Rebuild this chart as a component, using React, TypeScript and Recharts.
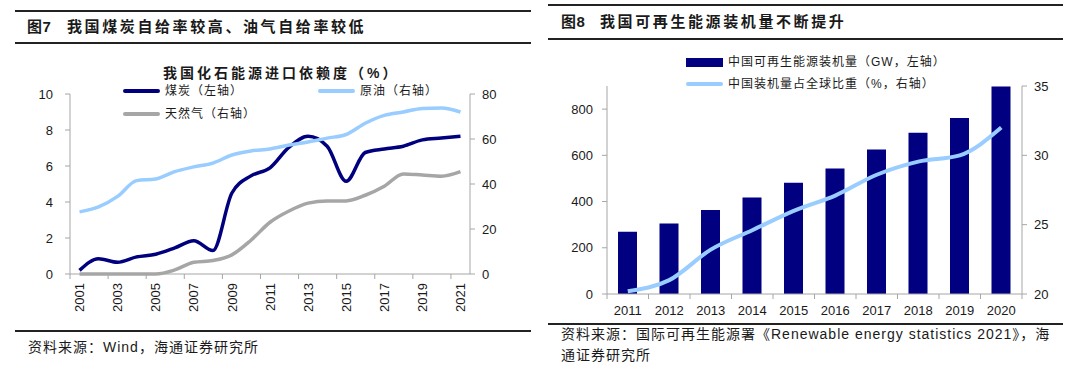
import React from 'react';
import { ComposedChart, LineChart, Line, Bar, XAxis, YAxis, Legend } from 'recharts';

// ---------- Figure 7 data ----------
const years = [2001, 2002, 2003, 2004, 2005, 2006, 2007, 2008, 2009, 2010, 2011, 2012, 2013, 2014, 2015, 2016, 2017, 2018, 2019, 2020, 2021];
const coalDependence = [0.2, 0.85, 0.65, 0.95, 1.1, 1.45, 1.85, 1.3, 4.5, 5.45, 5.9, 7.05, 7.65, 7.1, 5.15, 6.75, 6.95, 7.1, 7.45, 7.55, 7.65];
const oilDependence = [27.6, 29.8, 34.5, 41.5, 42.2, 45.5, 47.6, 49.3, 52.9, 54.7, 55.6, 57.3, 58.7, 60.4, 62.0, 67.0, 70.5, 72.0, 73.6, 73.8, 72.0];
const gasDependence = [0, 0, 0, 0, 0, 1.8, 5.2, 6.0, 8.5, 15.0, 23.0, 28.0, 31.5, 32.5, 32.5, 35.0, 39.0, 44.5, 44.0, 43.5, 45.5];
const fig7LeftTicks = [0, 2, 4, 6, 8, 10];
const fig7RightTicks = [0, 20, 40, 60, 80];
const fig7YearLabels = [2001, 2003, 2005, 2007, 2009, 2011, 2013, 2015, 2017, 2019, 2021];

// ---------- Figure 8 data ----------
const capYears = [2011, 2012, 2013, 2014, 2015, 2016, 2017, 2018, 2019, 2020];
const capacityGW = [269, 305, 363, 418, 481, 543, 625, 698, 762, 898];
const globalShare = [20.2, 21.0, 23.2, 24.6, 26.0, 27.1, 28.6, 29.55, 30.0, 32.0];
const fig8LeftTicks = [0, 200, 400, 600, 800];
const fig8RightTicks = [20, 25, 30, 35];

const fig7Data = years.map((y, i) => ({ year: y, coal: coalDependence[i], oil: oilDependence[i], gas: gasDependence[i] }));
const fig7Boundaries = fig7YearLabels.map((y) => y - 0.5);
const fig7XTicks = [...fig7Boundaries, ...fig7YearLabels].sort((a, b) => a - b);
const fig7Domain = [years[0] - 0.5, years[years.length - 1] + 0.5];

const fig8Data = capYears.map((y, i) => ({ year: y, cap: capacityGW[i], share: globalShare[i] }));
const fig8Boundaries = [capYears[0] - 0.5, ...capYears.map((y) => y + 0.5)];
const fig8XTicks = [...fig8Boundaries, ...capYears].sort((a, b) => a - b);
const fig8Domain = [capYears[0] - 0.5, capYears[capYears.length - 1] + 0.5];

const AXIS = '#A6A6A6';
const TXT = '#1a1a1a';
const LATIN = "'Liberation Sans', Arial, 'Noto Sans CJK SC', sans-serif";
const CJK = "'Liberation Sans', 'Noto Sans CJK SC', sans-serif";

const X_TICK_SIZE = 0;
const X_TICK_MARGIN_7 = 9;
const X_TICK_MARGIN_8 = 12;
const MARK_LEN = 5;

const Fig7XTick = (props: any) => {
  const { x, y, payload } = props;
  const v = payload.value;
  if (!Number.isInteger(v)) {
    const ay = y - X_TICK_SIZE - X_TICK_MARGIN_7;
    return <line x1={x} x2={x} y1={ay} y2={ay + MARK_LEN} stroke={AXIS} />;
  }
  return (
    <text x={x} y={y} transform={`rotate(-90 ${x} ${y})`} textAnchor="end" dy="0.36em"
      fontSize={13} fill={TXT} fontFamily={LATIN}>
      {v}
    </text>
  );
};

const Fig8XTick = (props: any) => {
  const { x, y, payload } = props;
  const v = payload.value;
  if (!Number.isInteger(v)) {
    const ay = y - X_TICK_SIZE - X_TICK_MARGIN_8;
    return <line x1={x} x2={x} y1={ay} y2={ay + MARK_LEN} stroke={AXIS} />;
  }
  return (
    <text x={x} y={y} textAnchor="middle" dy="0.71em" fontSize={13} fill={TXT} fontFamily={LATIN}>
      {v}
    </text>
  );
};

const tickStyle = { fontSize: 13, fill: TXT, fontFamily: LATIN };

const fig7LegendPos: Record<string, { x: number; y: number }> = {
  coal: { x: 123, y: 91 },
  gas: { x: 123, y: 114 },
  oil: { x: 318, y: 91 },
};
const fig8LegendPos: Record<string, { x: number; y: number }> = {
  cap: { x: 686, y: 62 },
  share: { x: 686, y: 84 },
};

const makeLegend = (pos: Record<string, { x: number; y: number }>, offsetX: number) => (props: any) => {
  const { payload } = props;
  return (
    <div style={{ position: 'relative', width: 540, height: 0 }}>
      {(payload || []).map((item: any) => {
        const p = pos[item.dataKey];
        if (!p) return null;
        const isRect = item.type === 'rect';
        return (
          <div key={item.dataKey} style={{ position: 'absolute', left: p.x - offsetX, top: p.y, transform: 'translateY(-50%)', display: 'flex', alignItems: 'center', whiteSpace: 'nowrap' }}>
            <span style={{ display: 'inline-block', width: 37, height: isRect ? 9 : 4, borderRadius: isRect ? 0 : 2, background: item.color }} />
            <span style={{ marginLeft: 5, fontSize: 12, letterSpacing: 1, color: TXT, fontFamily: CJK, lineHeight: '14px' }}>{item.value}</span>
          </div>
        );
      })}
    </div>
  );
};

const Rule = ({ x1, x2, y }: { x1: number; x2: number; y: number }) => (
  <div style={{ position: 'absolute', left: x1, top: y - 1, width: x2 - x1, height: 2, background: '#222' }} />
);

const Txt = ({ x, y, children, size = 14, bold = false, ls = 1 }: any) => (
  <div style={{ position: 'absolute', left: x, top: y, transform: 'translateY(-50%)', fontSize: size, fontWeight: bold ? 700 : 400, letterSpacing: ls, color: TXT, fontFamily: CJK, whiteSpace: 'nowrap', lineHeight: 1.2 }}>
    {children}
  </div>
);

export default function App() {
  return (
    <div style={{ position: 'absolute', left: 0, top: 0, width: 1080, height: 368, background: '#fff', overflow: 'hidden' }}>
      {/* ---------- Figure 7 ---------- */}
      <div style={{ position: 'absolute', left: 0, top: 0, width: 540, height: 340 }}>
        <LineChart width={540} height={340} data={fig7Data} margin={{ top: 94, right: 20, bottom: 26, left: 20 }}>
          <XAxis dataKey="year" type="number" domain={fig7Domain} ticks={fig7XTicks} height={40}
            tick={<Fig7XTick />} tickLine={false} tickSize={X_TICK_SIZE} tickMargin={X_TICK_MARGIN_7}
            axisLine={{ stroke: AXIS }} interval={0} allowDataOverflow />
          <YAxis yAxisId="left" domain={[0, 10]} ticks={fig7LeftTicks} width={50} axisLine={{ stroke: AXIS }}
            tickLine={{ stroke: AXIS }} tickSize={5} tickMargin={12} tick={tickStyle} interval={0} />
          <YAxis yAxisId="right" orientation="right" domain={[0, 80]} ticks={fig7RightTicks} width={50} axisLine={{ stroke: AXIS }}
            tickLine={{ stroke: AXIS }} tickSize={5} tickMargin={7} tick={{ ...tickStyle, textAnchor: 'start' }} interval={0} />
          <Legend content={makeLegend(fig7LegendPos, 0)} wrapperStyle={{ position: 'absolute', left: 0, top: 0, width: 540, height: 0 }} />
          <Line yAxisId="left" dataKey="coal" name="煤炭（左轴）" type="monotone" stroke="#00007F" strokeWidth={3.5} dot={false} isAnimationActive={false} legendType="line" />
          <Line yAxisId="right" dataKey="oil" name="原油（右轴）" type="monotone" stroke="#99CCFF" strokeWidth={3.5} dot={false} isAnimationActive={false} legendType="line" />
          <Line yAxisId="right" dataKey="gas" name="天然气（右轴）" type="monotone" stroke="#A6A6A6" strokeWidth={3.5} dot={false} isAnimationActive={false} legendType="line" />
        </LineChart>
      </div>
      <Rule x1={15} x2={531} y={11} />
      <Rule x1={15} x2={531} y={43} />
      <Txt x={27} y={27} size={15} bold ls={0.5}>图7</Txt>
      <Txt x={67} y={27} size={15} bold ls={2.6}>我国煤炭自给率较高、油气自给率较低</Txt>
      <Txt x={163} y={73} size={14} bold ls={3}>我国化石能源进口依赖度（%）</Txt>
      <Rule x1={15} x2={531} y={331} />
      <Txt x={28} y={347} size={14} ls={1}>资料来源：Wind，海通证券研究所</Txt>

      {/* ---------- Figure 8 ---------- */}
      <div style={{ position: 'absolute', left: 540, top: 0, width: 540, height: 340 }}>
        <ComposedChart width={540} height={340} data={fig8Data} margin={{ top: 86, right: 13, bottom: 16, left: 17 }}>
          <XAxis dataKey="year" type="number" domain={fig8Domain} ticks={fig8XTicks} height={30}
            tick={<Fig8XTick />} tickLine={false} tickSize={X_TICK_SIZE} tickMargin={X_TICK_MARGIN_8}
            axisLine={{ stroke: AXIS }} interval={0} allowDataOverflow />
          <YAxis yAxisId="left" domain={[0, 900]} ticks={fig8LeftTicks} width={50} axisLine={{ stroke: AXIS }}
            tickLine={{ stroke: AXIS }} tickSize={5} tickMargin={9} tick={tickStyle} interval={0} />
          <YAxis yAxisId="right" orientation="right" domain={[20, 35]} ticks={fig8RightTicks} width={45} axisLine={{ stroke: AXIS }}
            tickLine={{ stroke: AXIS }} tickSize={5} tickMargin={7} tick={{ ...tickStyle, textAnchor: 'start' }} interval={0} />
          <Legend content={makeLegend(fig8LegendPos, 540)} wrapperStyle={{ position: 'absolute', left: 0, top: 0, width: 540, height: 0 }} />
          <Bar yAxisId="left" dataKey="cap" name="中国可再生能源装机量（GW，左轴）" fill="#000080" barSize={19} isAnimationActive={false} legendType="rect" />
          <Line yAxisId="right" dataKey="share" name="中国装机量占全球比重（%，右轴）" type="monotone" stroke="#99CCFF" strokeWidth={4} dot={false} isAnimationActive={false} legendType="line" />
        </ComposedChart>
      </div>
      <Rule x1={548} x2={1063} y={5} />
      <Rule x1={548} x2={1063} y={39} />
      <Txt x={561} y={22} size={15} bold ls={0.5}>图8</Txt>
      <Txt x={600} y={22} size={15} bold ls={2.6}>我国可再生能源装机量不断提升</Txt>
      <Rule x1={548} x2={1063} y={324} />
      <Txt x={561} y={334} size={14} ls={1}>资料来源：国际可再生能源署《Renewable energy statistics 2021》，海</Txt>
      <Txt x={561} y={355} size={14} ls={1}>通证券研究所</Txt>
    </div>
  );
}
